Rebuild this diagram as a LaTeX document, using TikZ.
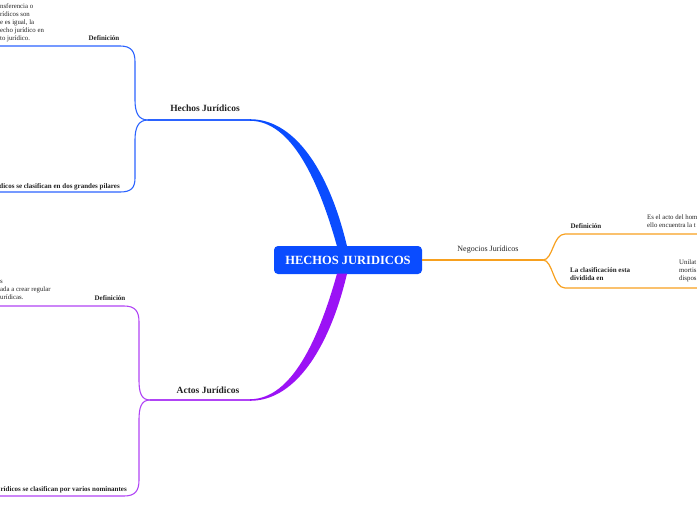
\documentclass[tikz,border=0pt]{standalone}
\usepackage{fontspec}
\setmainfont{Liberation Serif}
\usetikzlibrary{calc}
\definecolor{bmain}{HTML}{0A4CFF}
\definecolor{bthin}{HTML}{2B63FF}
\definecolor{pmain}{HTML}{9B12F5}
\definecolor{pthin}{HTML}{B044F5}
\definecolor{omain}{HTML}{F7A01E}
\definecolor{txt}{HTML}{222222}
\tikzset{
  central/.style={fill=bmain, rounded corners=4pt, minimum width=148pt, minimum height=28pt, inner sep=0pt, text=white, font=\fontsize{12.5}{14}\selectfont\bfseries},
  mainlbl/.style={text=txt, inner sep=0pt, font=\fontsize{9.5}{11}\selectfont\bfseries},
  neglbl/.style={text=txt, inner sep=0pt, font=\fontsize{8}{10}\selectfont},
  sublbl/.style={text=txt, inner sep=0pt, font=\fontsize{7}{8.5}\selectfont\bfseries},
  body/.style={text=txt, inner sep=0pt, align=left, font=\fontsize{6.8}{8}\selectfont},
  bline/.style={draw=bthin, line width=1.1pt},
  pline/.style={draw=pthin, line width=1.1pt},
  oline/.style={draw=omain, line width=1.2pt},
}
\begin{document}
\begin{tikzpicture}[x=1pt,y=-1pt]
\useasboundingbox (0,0) rectangle (697,520);
\clip (0,0) rectangle (697,520);

% central node
\node[central] (c) at (348,260) {HECHOS JURIDICOS};

% junction coordinates
\coordinate (hk) at (250,120);
\coordinate (hj) at (148,120);
\coordinate (ak) at (250,400);
\coordinate (aj) at (150,400);
\coordinate (oj) at (543,260);
\coordinate (hdef) at (0,46);
\coordinate (hcla) at (0,192);
\coordinate (adef) at (0,306);
\coordinate (acla) at (0,496);
\coordinate (odef) at (697,234);
\coordinate (ocla) at (697,288);

% main tapered branches
\fill[bmain] ($(hk)+(0,0.8)$) .. controls (292,120.8) and (319,182) .. ($(c.north)+(-11,0.5)$)
  -- ($(c.north)+(-1,0.5)$) .. controls (331,178) and (298,119.2) .. ($(hk)+(0,-0.8)$) -- cycle;
\fill[pmain] ($(ak)+(0,-0.8)$) .. controls (292,399.2) and (319,338) .. ($(c.south)+(-11,-0.5)$)
  -- ($(c.south)+(-1,-0.5)$) .. controls (331,342) and (298,400.8) .. ($(ak)+(0,0.8)$) -- cycle;
\draw[oline] (c.east) -- (oj);

% thin branches
\draw[bline] (hk) -- (hj);
\draw[bline] (hj) .. controls (138,120) and (135,112) .. (135,100) -- (135,62)
  .. controls (135,51) and (131,46) .. (120,46) -- (hdef);
\draw[bline] (hj) .. controls (138,120) and (135,128) .. (135,140) -- (135,178)
  .. controls (135,188) and (131,192) .. (120,192) -- (hcla);

\draw[pline] (ak) -- (aj);
\draw[pline] (aj) .. controls (141,400) and (139,392) .. (139,380) -- (139,322)
  .. controls (139,311) and (135,306) .. (124,306) -- (adef);
\draw[pline] (aj) .. controls (141,400) and (139,408) .. (139,420) -- (139,480)
  .. controls (139,491) and (135,496) .. (124,496) -- (acla);

\draw[oline] (oj) .. controls (553,260) and (553,234) .. (565,234) -- (odef);
\draw[oline] (oj) .. controls (553,260) and (553,288) .. (565,288) -- (ocla);

% labels
\node[mainlbl] (lh) at (205,108) {Hechos Jurídicos};
\node[mainlbl] (la) at (208,390) {Actos Jurídicos};
\node[neglbl] (ln) at (488,250) {Negocios Jurídicos};

\node[sublbl] (hd) at (104,38.5) {Definición};
\node[sublbl, anchor=east] (hc) at (120,186.5) {dicos se clasifican en dos grandes pilares};
\node[sublbl] (ad) at (110,298.5) {Definición};
\node[sublbl, anchor=east] (ac) at (127,490) {rídicos se clasifican por varios nominantes};
\node[sublbl] (od) at (586,226.5) {Definición};
\node[sublbl, anchor=north west, align=left] (oc) at (570,267) {La clasificación esta\\dividida en};

% body texts
\node[body, anchor=north west] (ht) at (0,3.8) {nsferencia o\\rídicos son\\e es igual, la\\echo jurídico en\\to jurídico.};
\node[body, anchor=north west] (at) at (0,280.5) {s\\ada a crear regular\\urídicas.};
\node[body, anchor=north west] (ot) at (647,214.5) {Es el acto del hom\\ello encuentra la t};
\node[body, anchor=north west] (ou) at (679,259.5) {Unilat\\mortis\\dispos};
\end{tikzpicture}
\end{document}
